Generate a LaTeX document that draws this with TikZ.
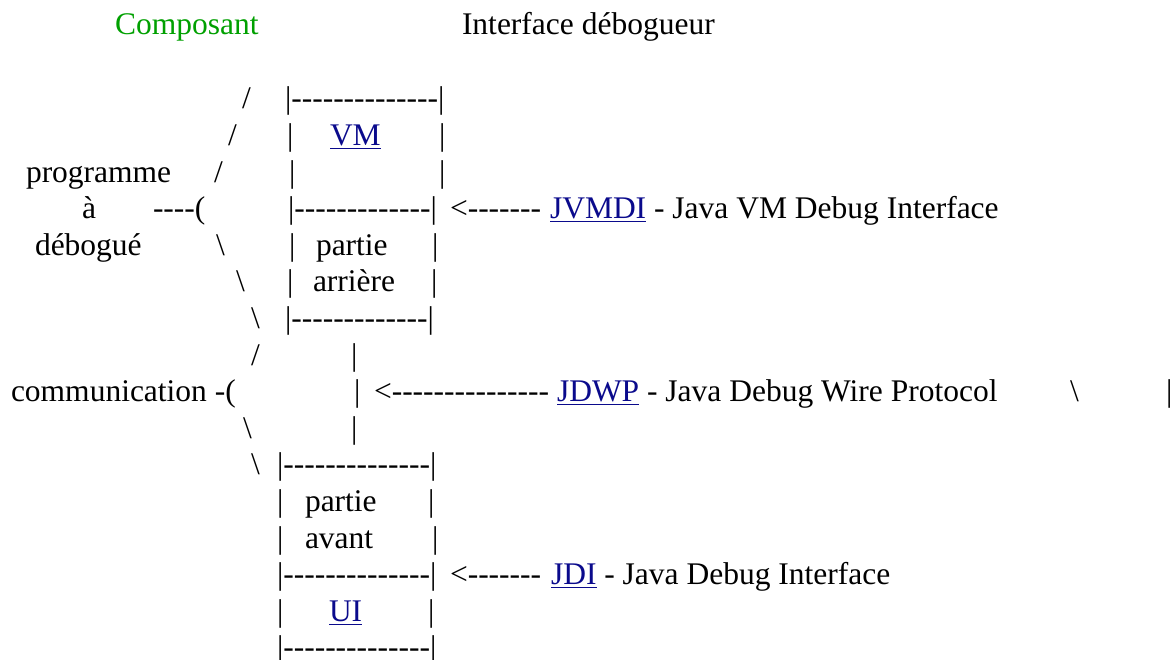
\documentclass[tikz,border=0pt]{standalone}
\usepackage{fontspec}
\setmainfont{Liberation Serif}[Ligatures=TeXOff]
\definecolor{lnk}{RGB}{10,10,140}
\definecolor{grn}{RGB}{0,160,0}
\newcommand\lk[1]{\textcolor{lnk}{\underline{#1}}}
\newcommand\bs{\textbackslash}
\begin{document}
\begin{tikzpicture}[x=0.5pt,y=-0.5pt,
  txt/.style={anchor=base west, inner sep=0pt, outer sep=0pt, font=\fontsize{15.75}{18}\selectfont}]
\useasboundingbox (0,0) rectangle (1173,659);
% titles
\node[txt, text=grn] (composant) at (115,34) {Composant};
\node[txt] (interface) at (462,34) {Interface débogueur};
% row 0
\node[txt] (s0) at (242,108.8) {/};
\node[txt] (top1) at (285,108.8) {|--------------|};
% row 1
\node[txt] (s1) at (228,145.4) {/};
\node[txt] (b1l) at (287,145.4) {|};
\node[txt] (vm) at (330,145.4) {\lk{VM}};
\node[txt] (b1r) at (439,145.4) {|};
% row 2
\node[txt] (prog) at (26,182) {programme};
\node[txt] (s2) at (214,182) {/};
\node[txt] (b2l) at (289,182) {|};
\node[txt] (b2r) at (439,182) {|};
% row 3
\node[txt] (a) at (82,218.6) {à};
\node[txt] (par1) at (153,218.6) {----(};
\node[txt] (mid1) at (288,218.6) {|-------------|};
\node[txt] (arr1) at (450,218.6) {<-------};
\node[txt] (jvmdi) at (550,218.6) {\lk{JVMDI} - Java VM Debug Interface};
% row 4
\node[txt] (debogue) at (35,255.2) {débogué};
\node[txt] (s4) at (216,255.2) {\bs};
\node[txt] (b4l) at (289,255.2) {|};
\node[txt] (partie1) at (316,255.2) {partie};
\node[txt] (b4r) at (432,255.2) {|};
% row 5
\node[txt] (s5) at (236,291.8) {\bs};
\node[txt] (b5l) at (287,291.8) {|};
\node[txt] (arriere) at (313,291.8) {arrière};
\node[txt] (b5r) at (431,291.8) {|};
% row 6
\node[txt] (s6) at (251,328.4) {\bs};
\node[txt] (bot1) at (285,328.4) {|-------------|};
% row 7
\node[txt] (s7) at (251,365) {/};
\node[txt] (b7) at (351,365) {|};
% row 8
\node[txt] (comm) at (11,401.6) {communication -(};
\node[txt] (b8) at (354,401.6) {|};
\node[txt] (arr2) at (374,401.6) {<---------------};
\node[txt] (jdwp) at (557,401.6) {\lk{JDWP} - Java Debug Wire Protocol};
\node[txt] (s8) at (1070,401.6) {\bs};
\node[txt] (b8r) at (1166,401.6) {|};
% row 9
\node[txt] (s9) at (243,438.2) {\bs};
\node[txt] (b9) at (351,438.2) {|};
% row 10
\node[txt] (s10) at (251,474.8) {\bs};
\node[txt] (top2) at (277,474.8) {|--------------|};
% row 11
\node[txt] (b11l) at (277,511.4) {|};
\node[txt] (partie2) at (305,511.4) {partie};
\node[txt] (b11r) at (428,511.4) {|};
% row 12
\node[txt] (b12l) at (277,548) {|};
\node[txt] (avant) at (305,548) {avant};
\node[txt] (b12r) at (432,548) {|};
% row 13
\node[txt] (mid2) at (277,584.6) {|--------------|};
\node[txt] (arr3) at (450,584.6) {<-------};
\node[txt] (jdi) at (551,584.6) {\lk{JDI} - Java Debug Interface};
% row 14
\node[txt] (b14l) at (277,621.2) {|};
\node[txt] (ui) at (329,621.2) {\lk{UI}};
\node[txt] (b14r) at (428,621.2) {|};
% row 15
\node[txt] (bot2) at (277,657.8) {|--------------|};
\end{tikzpicture}
\end{document}
